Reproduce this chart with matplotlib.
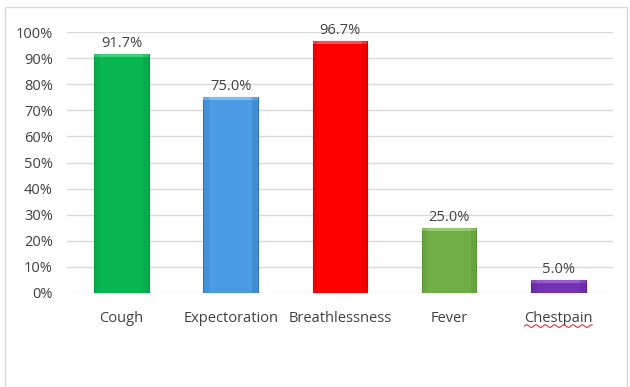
import matplotlib.pyplot as plt
import matplotlib.patches as mpatches
import numpy as np

symptoms = ["Cough", "Expectoration", "Breathlessness", "Fever", "Chestpain"]
percent = [91.7, 75.0, 96.7, 25.0, 5.0]
colors = ["#08B652", "#4A9BE3", "#FF0000", "#6FAE45", "#7431B2"]
tops = ["#3FD37E", "#7DBDF2", "#FF5050", "#95CB6E", "#9A5BD0"]
shades = ["#069A45", "#3474B5", "#D90000", "#5A9237", "#5D2395"]

plt.rcParams['font.family'] = ['Open Sans', 'DejaVu Sans']

fig = plt.figure(figsize=(6.3, 3.87), dpi=100)
# light frame around the chart (runs past the bottom edge)
fig.patches.append(mpatches.Rectangle((0.008, -0.05), 0.988, 1.032, transform=fig.transFigure,
                                      fill=False, edgecolor="#D9D9D9", linewidth=1))

ax = fig.add_axes([0.106, 0.243, 0.867, 0.674])
x = np.arange(len(symptoms))
vals = np.array(percent) / 100

bars = ax.bar(x, vals, width=0.5, color=colors, edgecolor=shades, linewidth=0.8, zorder=3)
# bevel highlight on top of each bar and darker sides
for xi, v, t, s in zip(x, vals, tops, shades):
    ax.bar(xi, 0.012, bottom=v - 0.012, width=0.5, color=t, linewidth=0, zorder=4)
    ax.bar(xi + 0.225, v, width=0.05, color=s, alpha=0.35, linewidth=0, zorder=4)
    ax.bar(xi - 0.225, v, width=0.05, color=s, alpha=0.25, linewidth=0, zorder=4)

for xi, v, p in zip(x, vals, percent):
    ax.text(xi, v + 0.012, f"{p:.1f}%", ha="center", va="bottom", fontsize=10.5, color="#404040")

ax.set_ylim(0, 1)
ax.set_xlim(-0.5, len(symptoms) - 0.5)
ax.set_yticks(np.arange(0, 1.01, 0.1))
ax.set_yticklabels([f"{int(round(t * 100))}%" for t in np.arange(0, 1.01, 0.1)])
ax.set_xticks(x)
ax.set_xticklabels(symptoms)
ax.tick_params(axis="both", length=0, labelsize=10.5, labelcolor="#404040")
ax.tick_params(axis="y", pad=10)
ax.tick_params(axis="x", pad=13)
ax.grid(axis="y", color="#D9D9D9", linewidth=1, zorder=0)
for sp in ax.spines.values():
    sp.set_visible(False)

# spell-check squiggle under the last label
wx = np.linspace(3.69, 4.31, 70)
wy = -0.127 + 0.005 * np.sin(np.linspace(0, 46, 70))
ax.plot(wx, wy, color="#E03030", linewidth=0.8, clip_on=False)

fig.savefig("out.png", dpi=100)
